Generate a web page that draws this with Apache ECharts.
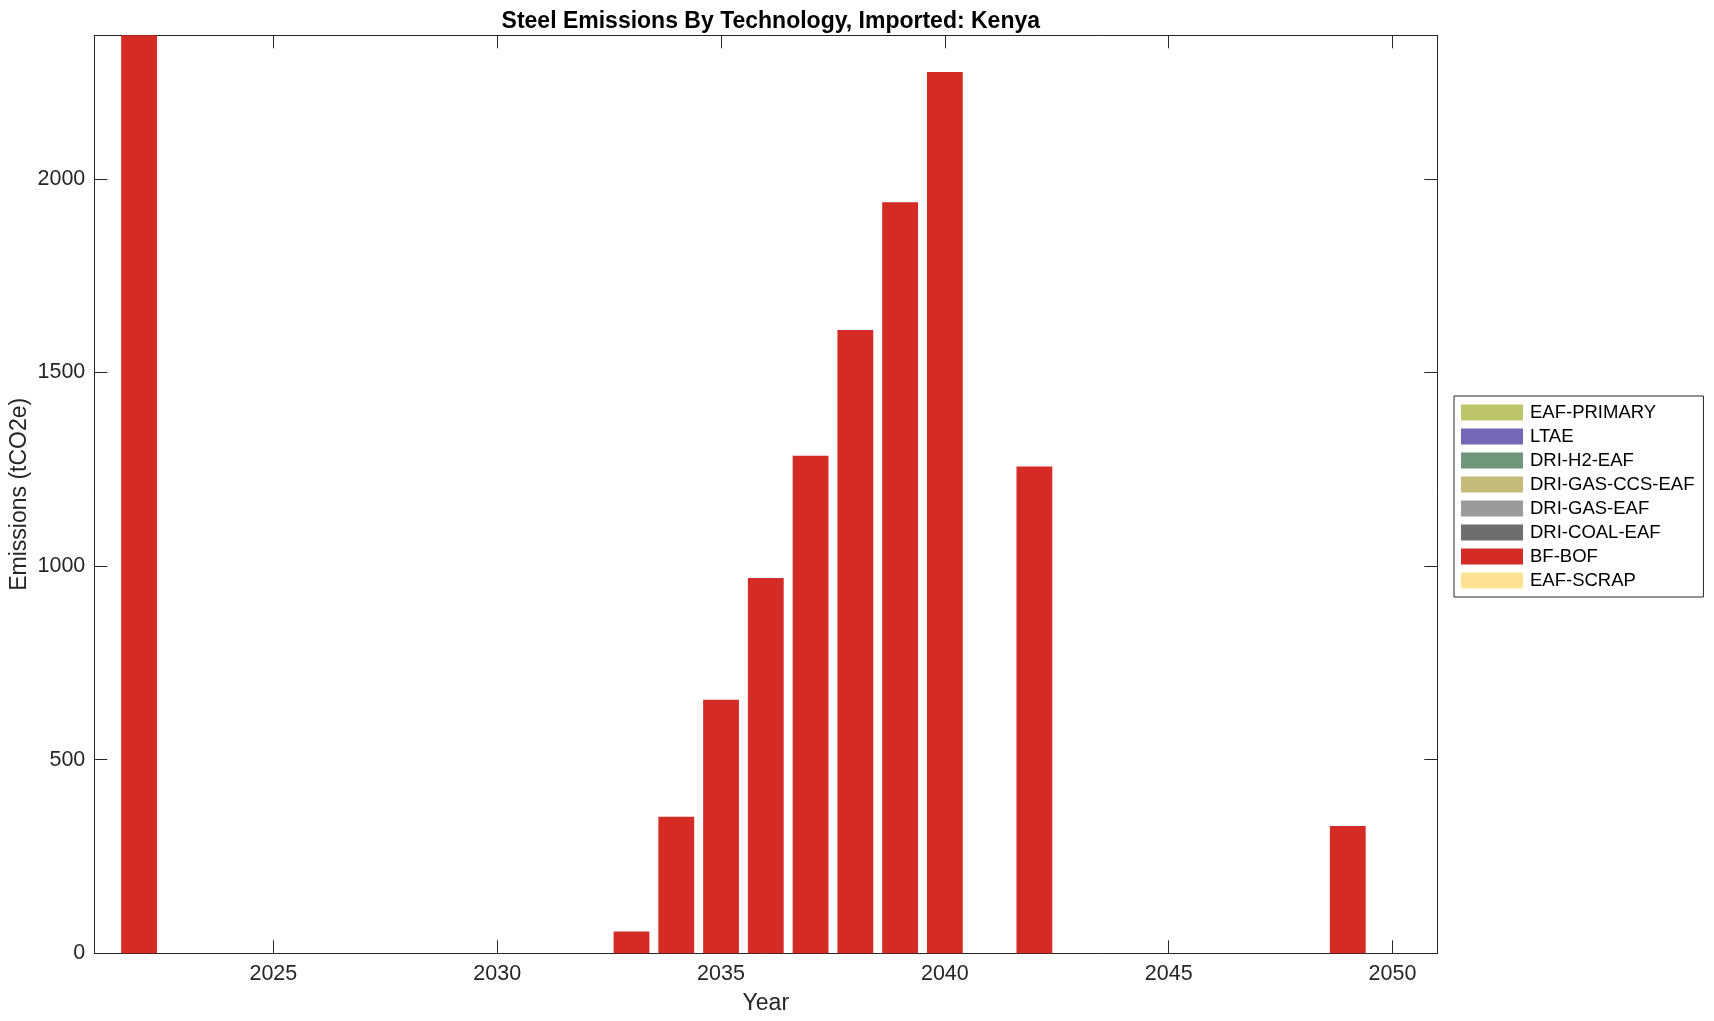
<!DOCTYPE html>
<html>
<head>
<meta charset="utf-8">
<script src="https://cdn.jsdelivr.net/npm/echarts@6/dist/echarts.min.js"></script>
<style>html,body{margin:0;padding:0;background:#fff;}#c{width:1714px;height:1021px;}</style>
</head>
<body>
<div id="c"></div>
<script>
const years = [2022,2023,2024,2025,2026,2027,2028,2029,2030,2031,2032,2033,2034,2035,2036,2037,2038,2039,2040,2041,2042,2043,2044,2045,2046,2047,2048,2049,2050];
const eafPrimary = [0,0,0,0,0,0,0,0,0,0,0,0,0,0,0,0,0,0,0,0,0,0,0,0,0,0,0,0,0];
const ltae       = [0,0,0,0,0,0,0,0,0,0,0,0,0,0,0,0,0,0,0,0,0,0,0,0,0,0,0,0,0];
const driH2Eaf   = [0,0,0,0,0,0,0,0,0,0,0,0,0,0,0,0,0,0,0,0,0,0,0,0,0,0,0,0,0];
const driGasCcsEaf = [0,0,0,0,0,0,0,0,0,0,0,0,0,0,0,0,0,0,0,0,0,0,0,0,0,0,0,0,0];
const driGasEaf  = [0,0,0,0,0,0,0,0,0,0,0,0,0,0,0,0,0,0,0,0,0,0,0,0,0,0,0,0,0];
const driCoalEaf = [0,0,0,0,0,0,0,0,0,0,0,0,0,0,0,0,0,0,0,0,0,0,0,0,0,0,0,0,0];
const bfBof      = [2371,0,0,0,0,0,0,0,0,0,0,56,353,655,969,1285,1610,1940,2276,0,1257,0,0,0,0,0,0,329,0];
const eafScrap   = [0,0,0,0,0,0,0,0,0,0,0,0,0,0,0,0,0,0,0,0,0,0,0,0,0,0,0,0,0];
const xTicks = [2025,2030,2035,2040,2045,2050];
const yTicks = [0,500,1000,1500,2000];
const seriesNames = ['EAF-PRIMARY','LTAE','DRI-H2-EAF','DRI-GAS-CCS-EAF','DRI-GAS-EAF','DRI-COAL-EAF','BF-BOF','EAF-SCRAP'];
const seriesValues = [eafPrimary,ltae,driH2Eaf,driGasCcsEaf,driGasEaf,driCoalEaf,bfBof,eafScrap];
const colors = ['#BDC66A','#7467B8','#6F967A','#C5BB7C','#9B9B9B','#6E6E6E','#D42B25','#FFE293'];

const X0 = 2021, X1 = 2051, YMAX = 2371;
const gl = 94.3, gr = 276.7, gt = 35.3, gb = 67.7;
const plotW = 1714 - gl - gr;
const barW = plotW / (X1 - X0) * 0.8;
const font = "'Liberation Sans', Arial, Helvetica, sans-serif";
const ax = '#262626';
const plain = v => String(v);

const chart = echarts.init(document.getElementById('c'), null, {renderer: 'canvas'});
const series = seriesNames.map((n, i) => ({
  name: n, type: 'bar', stack: 'total', barWidth: barW,
  itemStyle: {color: colors[i]},
  data: years.map((y, j) => [y, seriesValues[i][j]]),
  xAxisIndex: 0, yAxisIndex: 0
}));
const tickCommon = {show: true, inside: true, length: 13, lineStyle: {color: ax, width: 1}};
chart.setOption({
  animation: false,
  backgroundColor: '#fff',
  title: {
    text: 'Steel Emissions By Technology, Imported: Kenya',
    left: gl + plotW / 2, textAlign: 'center', top: 5,
    textStyle: {fontFamily: font, fontSize: 23, fontWeight: 'bold', color: '#000'}
  },
  grid: {left: gl, right: gr, top: gt, bottom: gb, containLabel: false, outerBoundsMode: 'none'},
  legend: {
    orient: 'vertical', left: 1454, top: 396,
    data: seriesNames,
    itemWidth: 62, itemHeight: 16, itemGap: 5,
    padding: [7, 9, 7, 7],
    borderColor: ax, borderWidth: 1, backgroundColor: '#fff',
    icon: 'rect',
    textStyle: {fontFamily: font, fontSize: 18.5, lineHeight: 16, color: '#000', padding: [0,0,0,2]}
  },
  xAxis: [{
    type: 'value', min: X0, max: X1, position: 'bottom',
    axisLine: {show: true, onZero: false, lineStyle: {color: ax, width: 1}},
    axisTick: Object.assign({customValues: xTicks}, tickCommon),
    axisLabel: {customValues: xTicks, formatter: plain, margin: 10, fontFamily: font, fontSize: 21.5, color: ax},
    splitLine: {show: false},
    name: 'Year', nameLocation: 'middle', nameGap: 39, nameMoveOverlap: false,
    nameTextStyle: {fontFamily: font, fontSize: 23, color: ax}
  }, {
    type: 'value', min: X0, max: X1, position: 'top',
    axisLine: {show: true, onZero: false, lineStyle: {color: ax, width: 1}},
    axisTick: Object.assign({customValues: xTicks}, tickCommon),
    axisLabel: {show: false}, splitLine: {show: false}
  }],
  yAxis: [{
    type: 'value', min: 0, max: YMAX, position: 'left',
    axisLine: {show: true, onZero: false, lineStyle: {color: ax, width: 1}},
    axisTick: Object.assign({customValues: yTicks}, tickCommon),
    axisLabel: {customValues: yTicks, formatter: plain, margin: 9, fontFamily: font, fontSize: 21.5, color: ax},
    splitLine: {show: false},
    name: 'Emissions (tCO2e)', nameLocation: 'middle', nameGap: 63, nameMoveOverlap: false,
    nameTextStyle: {fontFamily: font, fontSize: 23, color: ax}
  }, {
    type: 'value', min: 0, max: YMAX, position: 'right',
    axisLine: {show: true, onZero: false, lineStyle: {color: ax, width: 1}},
    axisTick: Object.assign({customValues: yTicks}, tickCommon),
    axisLabel: {show: false}, splitLine: {show: false}
  }],
  series: series
});
</script>
</body>
</html>
